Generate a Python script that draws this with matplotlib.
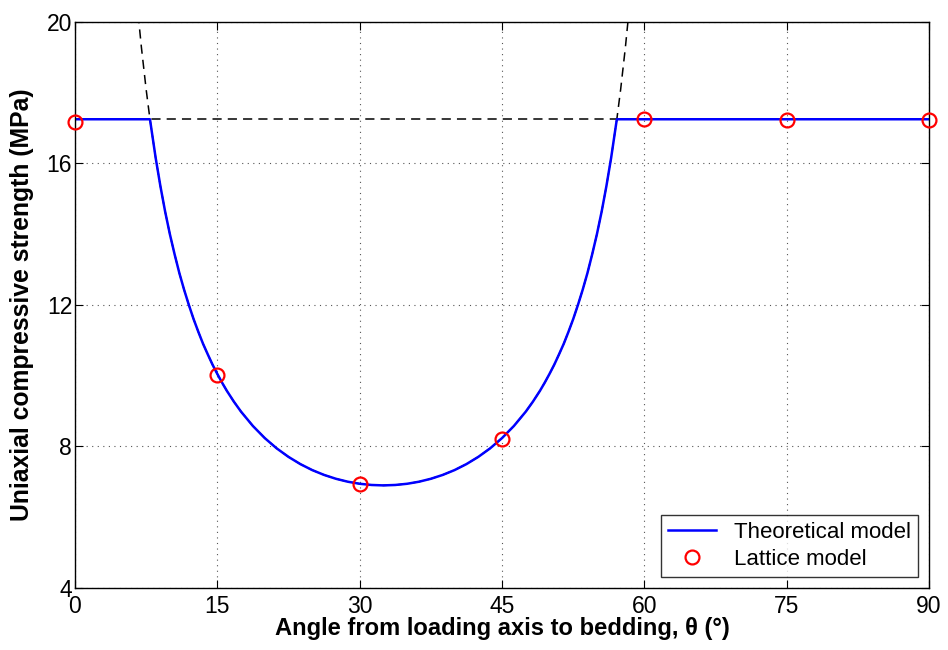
import numpy as np
from matplotlib import pyplot as plt

plt.rcParams['font.family'] = ['Liberation Sans', 'DejaVu Sans']

# plateau strength (MPa)
plateau = 17.25

# single-plane-of-weakness curve (deg, MPa)
theta_curve = [6, 6.5, 7, 7.5, 7.9, 8, 8.5, 9, 9.5, 10, 10.5, 11, 11.5, 12, 12.5,
               13, 13.5, 14, 14.5, 15, 15.5, 16, 16.75, 17.5, 18.75, 20, 21.25,
               22.5, 23.75, 25, 26.25, 27.5, 28.75, 30, 31.25, 32.5,
               33.75, 35, 36.25, 37.5, 38.75, 40, 41.25, 42.5, 43.75, 45, 46.25,
               47.5, 48.25, 49, 49.5, 50, 50.5, 51, 51.5, 52, 52.5, 53, 53.5, 54,
               54.5, 55, 55.5, 56, 56.5, 57, 57.1, 57.5, 58, 58.5, 59]
ucs_curve = [22.23, 20.63, 19.28, 18.09, 17.25, 17.07, 16.16, 15.36, 14.64, 14.00,
             13.43, 12.90, 12.43, 12.00, 11.60, 11.24, 10.90, 10.60, 10.31, 10.05,
             9.804, 9.575, 9.265, 8.984, 8.579, 8.237, 7.948, 7.706, 7.502, 7.333,
             7.196, 7.087, 7.004, 6.946, 6.912, 6.900,
             6.912, 6.946, 7.004, 7.087, 7.196, 7.333, 7.502, 7.706, 7.948, 8.237,
             8.579, 8.984, 9.265, 9.575, 9.804, 10.05, 10.31, 10.60, 10.90, 11.24,
             11.60, 12.00, 12.43, 12.90, 13.43, 14.00, 14.64, 15.36, 16.16, 17.07,
             17.25, 18.09, 19.28, 20.63, 22.23]

# lattice model results
theta_lattice = [0, 15, 30, 45, 60, 75, 90]
ucs_lattice = [17.18, 10.02, 6.94, 8.22, 17.25, 17.24, 17.22]

xticks = [0, 15, 30, 45, 60, 75, 90]
yticks = [4, 8, 12, 16, 20]

# theoretical model = lower envelope of plateau and curve
theta_c = np.array(theta_curve)
ucs_c = np.array(ucs_curve)
mask = (theta_c >= 7.9) & (theta_c <= 57.1)
theta_model = np.concatenate([[0], theta_c[mask], [90]])
ucs_model = np.concatenate([[plateau], ucs_c[mask], [plateau]])

fig = plt.figure(figsize=[9.48, 6.5], dpi=100)
fig.patch.set_facecolor('white')
ax = fig.add_axes([0.0791, 0.0954, 0.9009, 0.8708])

ax.plot(theta_curve, ucs_curve, color="k", linestyle=(0, (6, 4)), linewidth=1.1)
ax.plot([0, 90], [plateau, plateau], color="k", linestyle=(0, (6, 4)), linewidth=1.1)
ax.plot(theta_model, ucs_model, color="#0000ff", linewidth=1.8, label="Theoretical model")
ax.plot(theta_lattice, ucs_lattice, linestyle="none", marker="o", markersize=10,
        markerfacecolor="none", markeredgecolor="#ff0000", markeredgewidth=1.6,
        label="Lattice model", clip_on=False, zorder=5)

ax.set_xlim(0, 90)
ax.set_ylim(4, 20)
ax.set_xticks(xticks)
ax.set_yticks(yticks)
ax.tick_params(direction="in", top=True, right=True, labelsize=16.5, length=6, pad=2)
ax.tick_params(axis="x", pad=5)
ax.grid(True, color="#555555", linestyle=(0, (1, 4)), linewidth=0.8)
for s in ax.spines.values():
    s.set_linewidth(1.0)

ax.set_xlabel("Angle from loading axis to bedding, θ (°)", fontsize=17.1, fontweight="bold", labelpad=-1)
ax.set_ylabel("Uniaxial compressive strength (MPa)", fontsize=17.8, fontweight="bold", labelpad=9)

leg = ax.legend(loc="lower right", fontsize=16, frameon=True, fancybox=False,
                edgecolor="k", borderaxespad=0.5, handlelength=2.2, borderpad=0.3,
                labelspacing=0.3, numpoints=1)
leg.get_frame().set_linewidth(1.0)

fig.savefig("out.png", dpi=100)
